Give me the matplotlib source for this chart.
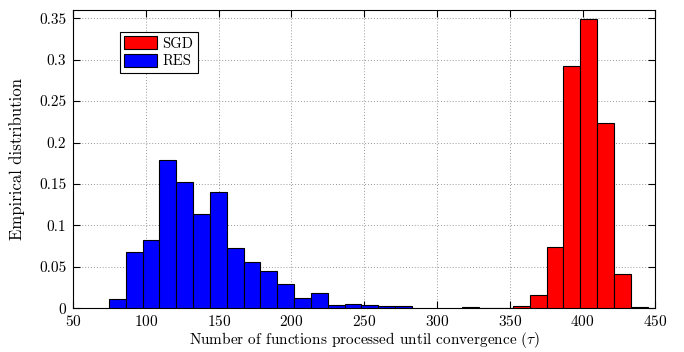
import matplotlib
matplotlib.use("Agg")
import matplotlib.pyplot as plt
import numpy as np

# bin edges shared by both histograms
bin_edges = [74.6, 86.2, 97.7, 109.3, 120.9, 132.4, 144.0, 155.6, 167.1, 178.7,
             190.3, 201.8, 213.4, 225.0, 236.5, 248.1, 259.6, 271.2, 282.8, 294.3,
             305.9, 317.5, 329.0, 340.6, 352.2, 363.7, 375.3, 386.9, 398.4, 410.0,
             421.6, 433.1, 444.7]

# RES occupies the first 18 bins
res_heights = [0.011, 0.068, 0.083, 0.179, 0.152, 0.114, 0.140, 0.073, 0.056,
               0.045, 0.029, 0.013, 0.019, 0.004, 0.005, 0.004, 0.003, 0.003]
res_start = 0

# SGD: one stray bin near 320, then the main bump
sgd_heights = [0.0015, 0.0, 0.0, 0.003, 0.016, 0.074, 0.292, 0.349, 0.224, 0.041, 0.0015]
sgd_start = 21

yticks = [0, 0.05, 0.1, 0.15, 0.2, 0.25, 0.3, 0.35]
ytick_labels = ["0", "0.05", "0.1", "0.15", "0.2", "0.25", "0.3", "0.35"]
xticks = [50, 100, 150, 200, 250, 300, 350, 400, 450]

plt.rcParams["font.family"] = "serif"
plt.rcParams["font.serif"] = ["cmr10", "DejaVu Serif"]
plt.rcParams["mathtext.fontset"] = "cm"
plt.rcParams["axes.formatter.use_mathtext"] = True

fig = plt.figure(figsize=(6.84, 3.52), dpi=100)
ax = fig.add_axes([0.107, 0.124, 0.851, 0.848])

edges = np.array(bin_edges)
widths = np.diff(edges)

def draw(start, heights, color, label):
    n = len(heights)
    lefts = edges[start:start + n]
    w = widths[start:start + n]
    return ax.bar(lefts, heights, width=w, align="edge", color=color,
                  edgecolor="black", linewidth=0.8, label=label, zorder=3)

sgd = draw(sgd_start, sgd_heights, "#ff0000", "SGD")
res = draw(res_start, res_heights, "#0000ff", "RES")

ax.set_xlim(50, 450)
ax.set_ylim(0, 0.36)
ax.set_xticks(xticks)
ax.set_yticks(yticks)
ax.set_yticklabels(ytick_labels)
ax.tick_params(direction="in", top=True, right=True, labelsize=11, length=5)
ax.tick_params(axis="x", pad=4)
ax.tick_params(axis="y", pad=5)
ax.grid(True, linestyle=(0, (1, 2)), color="#999999", linewidth=0.7, zorder=0)
ax.set_axisbelow(True)

ax.set_xlabel(r"Number of functions processed until convergence ($\tau$)", fontsize=11,
              labelpad=1)
ax.set_ylabel("Empirical distribution", fontsize=12, labelpad=10)

leg = ax.legend(handles=[sgd, res], loc="upper left", bbox_to_anchor=(0.068, 0.95),
                fontsize=10.5, fancybox=False, edgecolor="black", framealpha=1,
                handlelength=2.2, handleheight=1.0, borderpad=0.3, labelspacing=0.2,
                handletextpad=0.4)
leg.get_frame().set_linewidth(0.8)

fig.savefig("out.png", dpi=100)
